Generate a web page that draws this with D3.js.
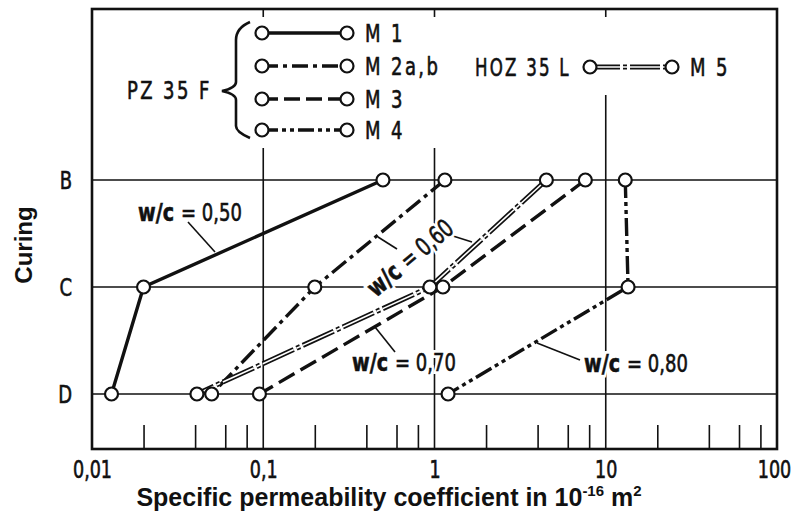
<!DOCTYPE html>
<html>
<head>
<meta charset="utf-8">
<script src="https://cdn.jsdelivr.net/npm/d3@7"></script>
<style>
  body { margin: 0; background: #fff; }
  svg { display: block; }
  .din { font-family: "DejaVu Sans Condensed", "DejaVu Sans", sans-serif; stroke: #111; stroke-width: 0.6px; }
  .bold { font-family: "Liberation Sans", Arial, sans-serif; font-weight: bold; }
</style>
</head>
<body>
<div class="graph"></div>
<script>
const width = 799;
const height = 513;
const frame = { left: 92, right: 777, top: 9, bottom: 449 };

/* data */
const curing = ["B", "C", "D"];
const xTicks = [0.01, 0.1, 1, 10, 100];
const xTickLabels = ["0,01", "0,1", "1", "10", "100"];
const minorTicks = [0.02, 0.04, 0.06, 0.08, 0.2, 0.4, 0.6, 0.8, 2, 4, 6, 8, 20, 40, 60, 80];
const seriesNames = ["M 1", "M 2a,b", "M 3", "M 4", "M 5"];
const m1 = [0.5, 0.02, 0.013];
const m2 = [1.15, 0.2, 0.05];
const m3 = [7.6, 1.12, 0.095];
const m4 = [13, 13.5, 1.2];
const m5 = [4.5, 0.94, 0.041];

const styles = {
  "M 1": { dash: null, legendDash: null, double: false },
  "M 2a,b": { dash: "18,5,4,5", legendDash: "16,5,4,5", double: false },
  "M 3": { dash: "18,7", legendDash: "16,6", double: false },
  "M 4": { dash: "18,4,4,4,4,4", legendDash: "16,4,4,4,4,4", double: false },
  "M 5": { dash: "34,3,4,3", legendDash: "30,3,4,3", double: true }
};

const series = seriesNames.map((name, i) => ({ name: name, values: [m1, m2, m3, m4, m5][i] }));

const x = d3.scaleLog().domain([0.01, 100]).range([frame.left, frame.right]);
const y = d3.scalePoint().domain(curing).range([180, 394]);

const svg = d3.select(".graph").append("svg")
  .attr("width", width)
  .attr("height", height);

// squeeze the condensed font a bit more, like the narrow DIN lettering
function squash(sel, k) {
  sel.each(function () {
    const len = this.getComputedTextLength();
    d3.select(this).attr("textLength", len * k).attr("lengthAdjust", "spacingAndGlyphs");
  });
}

/* grid */
svg.append("g").selectAll("line")
  .data(curing)
  .enter().append("line")
  .attr("x1", frame.left).attr("x2", frame.right)
  .attr("y1", d => y(d)).attr("y2", d => y(d))
  .attr("stroke", "#111").attr("stroke-width", 1.6);

const gridTop = { 0.1: 148, 1: 148, 10: 95 };
svg.append("g").selectAll("line")
  .data([0.1, 1, 10])
  .enter().append("line")
  .attr("x1", d => x(d)).attr("x2", d => x(d))
  .attr("y1", d => gridTop[d]).attr("y2", frame.bottom)
  .attr("stroke", "#111").attr("stroke-width", 1.6);

/* small ticks at top */
svg.append("g").selectAll("line")
  .data([0.1, 1, 10])
  .enter().append("line")
  .attr("x1", d => x(d)).attr("x2", d => x(d))
  .attr("y1", frame.top).attr("y2", frame.top + 8)
  .attr("stroke", "#111").attr("stroke-width", 1.6);

/* minor ticks at bottom */
svg.append("g")
  .attr("transform", "translate(0," + frame.bottom + ")")
  .call(d3.axisBottom(x).tickValues(minorTicks).tickSize(-24).tickFormat(""))
  .call(g => g.select(".domain").remove())
  .selectAll("line").attr("stroke", "#111").attr("stroke-width", 1.6);

/* x labels, narrowed with a horizontal scale */
const xAxis = svg.append("g")
  .attr("transform", "translate(0," + frame.bottom + ")")
  .call(d3.axisBottom(x).tickValues(xTicks).tickSize(0)
    .tickFormat((d, i) => xTickLabels[i]));
xAxis.select(".domain").remove();
xAxis.selectAll("text")
  .attr("class", "din")
  .attr("font-size", 25)
  .attr("y", 29)
  .attr("dy", null)
  .attr("fill", "#111")
  .attr("transform", d => "translate(" + (d === 100 ? -3 : 0) + ",0) scale(0.78,1)");

/* y labels */
const yAxis = svg.append("g")
  .attr("transform", "translate(" + frame.left + ",0)")
  .call(d3.axisLeft(y).tickSize(0).tickPadding(20));
yAxis.select(".domain").remove();
yAxis.selectAll("text")
  .attr("class", "din")
  .attr("font-size", 25)
  .attr("fill", "#111")
  .call(squash, 0.8);

/* frame */
svg.append("rect")
  .attr("x", frame.left).attr("y", frame.top)
  .attr("width", frame.right - frame.left)
  .attr("height", frame.bottom - frame.top)
  .attr("fill", "none").attr("stroke", "#111").attr("stroke-width", 2.6);

/* annotation leaders */
const leaders = [
  [188, 222, 215, 252],
  [378, 237, 397, 249],
  [453, 236, 472, 242],
  [375, 327, 395, 352],
  [537, 343, 580, 360]
];
svg.append("g").selectAll("line")
  .data(leaders)
  .enter().append("line")
  .attr("x1", d => d[0]).attr("y1", d => d[1])
  .attr("x2", d => d[2]).attr("y2", d => d[3])
  .attr("stroke", "#111").attr("stroke-width", 1.6);

/* lines */
const line = d3.line()
  .x(d => x(d.v))
  .y(d => y(d.c));

const lineG = svg.append("g");
series.forEach(s => {
  const pts = s.values.map((v, i) => ({ v: v, c: curing[i] }));
  const st = styles[s.name];
  if (st.double) {
    lineG.append("path")
      .attr("d", line(pts))
      .attr("fill", "none").attr("stroke", "#111").attr("stroke-width", 5)
      .attr("stroke-dasharray", st.dash);
    lineG.append("path")
      .attr("d", line(pts))
      .attr("fill", "none").attr("stroke", "#fff").attr("stroke-width", 1.6)
      .attr("stroke-dasharray", st.dash);
  } else {
    lineG.append("path")
      .attr("d", line(pts))
      .attr("fill", "none").attr("stroke", "#111").attr("stroke-width", 3.4)
      .attr("stroke-dasharray", st.dash);
  }
});

/* w/c labels: bold "w/c" and plain "= value" as two texts, white halo behind */
function wcLabel(tx, ty, value, angle) {
  const g = svg.append("g")
    .attr("transform", "translate(" + tx + "," + ty + ") rotate(" + angle + ")");
  const parts = [
    { t: "w/c", bold: true, k: 0.85 },
    { t: "= " + value, bold: false, k: 0.8 }
  ];
  const halo = g.append("g");
  const ink = g.append("g");
  const nodes = parts.map(p => {
    const t = ink.append("text")
      .attr("class", "din")
      .attr("font-size", 25)
      .attr("font-weight", p.bold ? "bold" : null)
      .attr("dominant-baseline", "central")
      .attr("fill", "#111")
      .text(p.t)
      .call(squash, p.k);
    return { sel: t, w: +t.attr("textLength") };
  });
  const gap = 7;
  const total = nodes[0].w + gap + nodes[1].w;
  let cx = -total / 2;
  nodes.forEach((n, i) => {
    n.sel.attr("x", cx);
    halo.append("text")
      .attr("class", "din")
      .attr("font-size", 25)
      .attr("font-weight", parts[i].bold ? "bold" : null)
      .attr("dominant-baseline", "central")
      .attr("x", cx)
      .attr("textLength", n.w).attr("lengthAdjust", "spacingAndGlyphs")
      .attr("fill", "#fff")
      .style("stroke", "#fff").style("stroke-width", "6px")
      .text(parts[i].t);
    cx += n.w + gap;
  });
}

wcLabel(190, 212, "0,50", 0);
wcLabel(410, 258, "0,60", -40);
wcLabel(404, 362, "0,70", 0);
wcLabel(636, 363, "0,80", 0);

/* points */
series.forEach(s => {
  svg.append("g").selectAll("circle")
    .data(s.values.map((v, i) => ({ v: v, c: curing[i] })))
    .enter().append("circle")
    .attr("cx", d => x(d.v))
    .attr("cy", d => y(d.c))
    .attr("r", 6.5)
    .attr("fill", "#fff")
    .attr("stroke", "#111")
    .attr("stroke-width", 2.2);
});

/* legend */
const legendRows = [
  { name: "M 1", lx: 262, ly: 33, len: 85 },
  { name: "M 2a,b", lx: 262, ly: 66, len: 85 },
  { name: "M 3", lx: 262, ly: 99, len: 85 },
  { name: "M 4", lx: 262, ly: 130, len: 85 },
  { name: "M 5", lx: 590, ly: 67, len: 82 }
];
const legend = svg.append("g");
legendRows.forEach(r => {
  const st = styles[r.name];
  const g = legend.append("g").attr("transform", "translate(" + r.lx + "," + r.ly + ")");
  if (st.double) {
    g.append("line").attr("x1", 0).attr("x2", r.len)
      .attr("stroke", "#111").attr("stroke-width", 5).attr("stroke-dasharray", st.legendDash);
    g.append("line").attr("x1", 0).attr("x2", r.len)
      .attr("stroke", "#fff").attr("stroke-width", 1.6).attr("stroke-dasharray", st.legendDash);
  } else {
    g.append("line").attr("x1", 0).attr("x2", r.len)
      .attr("stroke", "#111").attr("stroke-width", 3.4)
      .attr("stroke-dasharray", st.legendDash);
  }
  g.selectAll("circle").data([0, r.len]).enter().append("circle")
    .attr("cx", d => d).attr("cy", 0).attr("r", 6.5)
    .attr("fill", "#fff").attr("stroke", "#111").attr("stroke-width", 2.2);
  g.append("text")
    .attr("class", "din")
    .attr("x", r.len + 18)
    .attr("y", 0)
    .attr("dominant-baseline", "central")
    .attr("font-size", 25)
    .attr("letter-spacing", 3)
    .attr("fill", "#111")
    .text(r.name)
    .call(squash, 0.8);
});

legend.append("text")
  .attr("class", "din")
  .attr("x", 127).attr("y", 90)
  .attr("dominant-baseline", "central")
  .attr("font-size", 25)
  .attr("letter-spacing", 3)
  .attr("fill", "#111")
  .text("PZ 35 F")
  .call(squash, 0.8);

legend.append("text")
  .attr("class", "din")
  .attr("x", 475).attr("y", 67)
  .attr("dominant-baseline", "central")
  .attr("font-size", 25)
  .attr("letter-spacing", 3)
  .attr("fill", "#111")
  .text("HOZ 35 L")
  .call(squash, 0.74);

/* brace */
legend.append("path")
  .attr("d", "M250,22 Q236,28 236,40 L236,82 Q236,88 222,91 Q236,94 236,100 L236,126 Q236,132 250,138")
  .attr("fill", "none").attr("stroke", "#111").attr("stroke-width", 2.6);

/* axis titles */
const xt = svg.append("text")
  .attr("class", "bold")
  .attr("x", 389).attr("y", 506)
  .attr("text-anchor", "middle")
  .attr("font-size", 25)
  .attr("fill", "#111");
xt.append("tspan").text("Specific permeability coefficient in 10");
xt.append("tspan").attr("font-size", 15).attr("dy", -10).text("-16");
xt.append("tspan").attr("dy", 10).text(" m");
xt.append("tspan").attr("font-size", 15).attr("dy", -10).text("2");

svg.append("text")
  .attr("class", "bold")
  .attr("transform", "translate(32,245) rotate(-90)")
  .attr("text-anchor", "middle")
  .attr("font-size", 24)
  .attr("fill", "#111")
  .text("Curing");
</script>
</body>
</html>
